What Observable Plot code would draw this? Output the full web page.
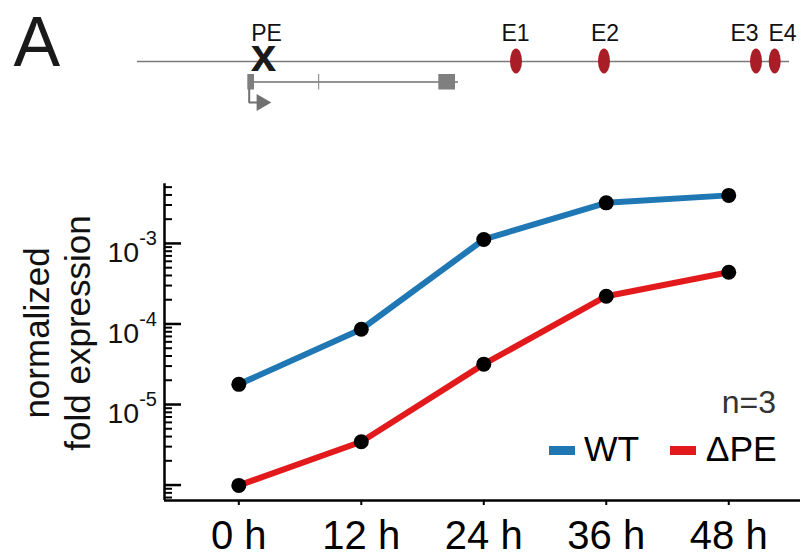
<!DOCTYPE html>
<html>
<head>
<meta charset="utf-8">
<script src="https://cdn.jsdelivr.net/npm/d3@7"></script>
<script src="https://cdn.jsdelivr.net/npm/@observablehq/plot@0.6"></script>
<style>
  html, body { margin: 0; padding: 0; background: #fff; }
  #fig { position: relative; width: 803px; height: 555px; overflow: hidden;
         font-family: "Liberation Sans", Arial, sans-serif; color: #000; }
  #fig svg { display: block; }
  .abs { position: absolute; white-space: nowrap; line-height: 1; }
</style>
</head>
<body>
<div id="fig"></div>
<script>
// ---------------- data ----------------
const hours = [0, 12, 24, 36, 48];
const seriesNames = ["WT", "ΔPE"];
const seriesColors = ["#1f77b4", "#e31a1c"];
const wtValues = [1.78e-5, 8.6e-5, 1.12e-3, 3.19e-3, 3.95e-3];
const dpeValues = [0.99e-6, 3.45e-6, 3.17e-5, 2.21e-4, 4.38e-4];
const yMajorTicks = [1e-6, 1e-5, 1e-4, 1e-3];
const yLabelTicks = [1e-5, 1e-4, 1e-3];
const sampleNote = "n=3";
const yTitle = "normalized\nfold expression";
const panelLetter = "A";

// locus schematic (positions in kb, TSS = 0)
const locusExtent = [-11.3, 53.9];
const peName = "PE";
const pePos = 1.3;
const peLabelPos = 1.6;
const enhancerNames = ["E1", "E2", "E3", "E4"];
const enhancerPos = [26.6, 35.4, 50.6, 52.47];
const enhancerLabelPos = [26.5, 35.45, 49.4, 53.2];
const exonStarts = [-0.27, 6.82, 18.83];
const exonEnds = [0.4, 6.92, 20.5];
const geneExtent = [0, 20.8];
const tssPos = -0.13;

// ---------------- tables ----------------
const rows = [];
hours.forEach((h, i) => {
  rows.push({hour: h, value: wtValues[i], series: seriesNames[0]});
});
hours.forEach((h, i) => {
  rows.push({hour: h, value: dpeValues[i], series: seriesNames[1]});
});

const X_DOMAIN = [-7.28, 55.03];
const Y_DOMAIN = [6.43e-7, 5.5e-3];
const yMinorTicks = [];
for (let e = -7; e <= -3; e++) {
  for (let m = 2; m <= 9; m++) {
    const v = m * Math.pow(10, e);
    if (v >= Y_DOMAIN[0] && v <= Y_DOMAIN[1]) yMinorTicks.push(v);
  }
}

const enhancers = enhancerNames.map((n, i) => ({name: n, pos: enhancerPos[i], labelPos: enhancerLabelPos[i]}));
const exons = exonStarts.map((s, i) => ({start: s, end: exonEnds[i]}));

const FONT = "Liberation Sans, Arial, sans-serif";
const fig = document.getElementById("fig");

// ---------------- locus diagram ----------------
const W = 803;
const diagram = Plot.plot({
  width: W, height: 150,
  marginTop: 0, marginBottom: 0, marginLeft: 0, marginRight: 0,
  style: {fontFamily: FONT, background: "transparent", color: "#000", overflow: "visible"},
  x: {domain: [-25, 55.3], range: [0, W], axis: null},
  y: {domain: [0, 150], range: [0, 150], axis: null},
  marks: [
    Plot.text([panelLetter], {frameAnchor: "top-left", textAnchor: "start", lineAnchor: "middle",
      text: d => d, fontSize: 70, dx: 13, dy: 65 - 0.32 * 70, fill: "#1a1a1a"}),
    Plot.ruleY([61], {x1: locusExtent[0], x2: locusExtent[1], stroke: "#7a7a7a", strokeWidth: 1.6}),
    Plot.text([peName], {x: peLabelPos, y: 40.7 - 0.32 * 23, text: d => d, fontSize: 23, fill: "#111"}),
    Plot.text(["x"], {x: pePos, y: 70.7 - 0.32 * 46, text: d => d, fontSize: 46, fontWeight: "bold", fill: "#1a1a1a"}),
    Plot.rect(enhancers, {x1: d => d.pos - 0.6, x2: d => d.pos + 0.6, y1: 48.5, y2: 73.5,
      rx: 20, fill: "#a91d27"}),
    Plot.text(enhancers, {x: "labelPos", y: 40.7 - 0.32 * 23, text: "name", fontSize: 23, fill: "#111"}),
    // gene model
    Plot.ruleY([81.5], {x1: geneExtent[0], x2: geneExtent[1], stroke: "#707070", strokeWidth: 1.5}),
    Plot.rect(exons, {x1: "start", x2: "end", y1: 74, y2: 89.5, fill: "#7f7f7f", insetLeft: 0, insetRight: 0}),
    Plot.line([{x: tssPos, y: 89}, {x: tssPos, y: 102}, {x: 0.9, y: 102}],
      {x: "x", y: "y", stroke: "#707070", strokeWidth: 2, curve: "linear", strokeLinejoin: "miter"}),
    Plot.dot([{x: 1.1, y: 102}], {x: "x", y: "y", symbol: "triangle", rotate: 90, r: 6.3,
      fill: "#707070", stroke: "none"})
  ]
});
diagram.style.position = "absolute";
diagram.style.left = "0px";
diagram.style.top = "0px";
fig.appendChild(diagram);

// ---------------- main chart ----------------
const innerW = 803 - 164 - 3;
const main = Plot.plot({
  width: 803, height: 405,
  marginTop: 33.3, marginBottom: 55, marginLeft: 164, marginRight: 3,
  style: {fontFamily: FONT, background: "transparent", color: "#000", overflow: "visible"},
  x: {domain: X_DOMAIN, axis: null},
  y: {type: "log", domain: Y_DOMAIN, axis: null},
  color: {domain: seriesNames, range: seriesColors},
  marks: [
    Plot.ruleX([X_DOMAIN[0]], {stroke: "#000", strokeWidth: 2.5}),
    Plot.ruleY([Y_DOMAIN[0]], {stroke: "#000", strokeWidth: 2.5}),
    Plot.tickY(yMajorTicks, {y: d => d, insetRight: innerW - 17, stroke: "#000", strokeWidth: 2.5}),
    Plot.tickY(yMinorTicks, {y: d => d, insetRight: innerW - 8, stroke: "#000", strokeWidth: 2}),
    Plot.text(yLabelTicks, {x: X_DOMAIN[0], y: d => d, text: d => `10^${Math.round(Math.log10(d))}`,
      textAnchor: "end", lineAnchor: "middle", dx: -7.5, dy: 9.5, fontSize: 28.5, fill: "#111"}),
    Plot.axisX(hours, {anchor: "bottom", label: null, tickSize: 5, tickPadding: 15, tickFormat: d => `${d} h`,
      fontSize: 40, strokeWidth: 2, stroke: "#000", fill: "#000"}),
    Plot.line(rows, {x: "hour", y: "value", z: "series", stroke: "series", strokeWidth: 6,
      strokeLinejoin: "round"}),
    Plot.dot(rows, {x: "hour", y: "value", r: 7.5, fill: "#000", stroke: "none"}),
    Plot.text([yTitle], {frameAnchor: "left", text: d => d, rotate: -90, textAnchor: "middle",
      lineAnchor: "middle", lineHeight: 41 / 35, fontSize: 35, dx: 55.8 - 164, dy: -9.15, fill: "#111"})
  ]
});
main.style.position = "absolute";
main.style.left = "0px";
main.style.top = "150px";
fig.appendChild(main);

// superscript exponents on y tick labels
const svgNS = "http://www.w3.org/2000/svg";
main.querySelectorAll("text").forEach(t => {
  const m = t.textContent.match(/^10\^(-?\d+)$/);
  if (m) {
    t.textContent = "10";
    const ts = document.createElementNS(svgNS, "tspan");
    ts.setAttribute("dy", "-16.7");
    ts.setAttribute("font-size", "20");
    ts.textContent = m[1];
    t.appendChild(ts);
  }
});

// ---------------- legend & note ----------------
function addText(txt, left, baseline, size, opts = {}) {
  const d = document.createElement("div");
  d.className = "abs";
  d.textContent = txt;
  d.style.fontSize = size + "px";
  d.style.top = (baseline - 0.8465 * size) + "px";
  if (opts.right != null) d.style.right = opts.right + "px"; else d.style.left = left + "px";
  d.style.color = opts.color || "#000";
  fig.appendChild(d);
}
function addSwatch(left, color) {
  const d = document.createElement("div");
  d.className = "abs";
  d.style.left = left + "px";
  d.style.top = "445.7px";
  d.style.width = "25.7px";
  d.style.height = "9.6px";
  d.style.background = color;
  fig.appendChild(d);
}
addText(sampleNote, null, 413.3, 32, {right: 803 - 776, color: "#333"});
addSwatch(549.3, seriesColors[0]);
addText(seriesNames[0], 584, 462.3, 35.5);
addSwatch(670, seriesColors[1]);
addText(seriesNames[1], 705.7, 462.3, 35.5);
</script>
</body>
</html>
